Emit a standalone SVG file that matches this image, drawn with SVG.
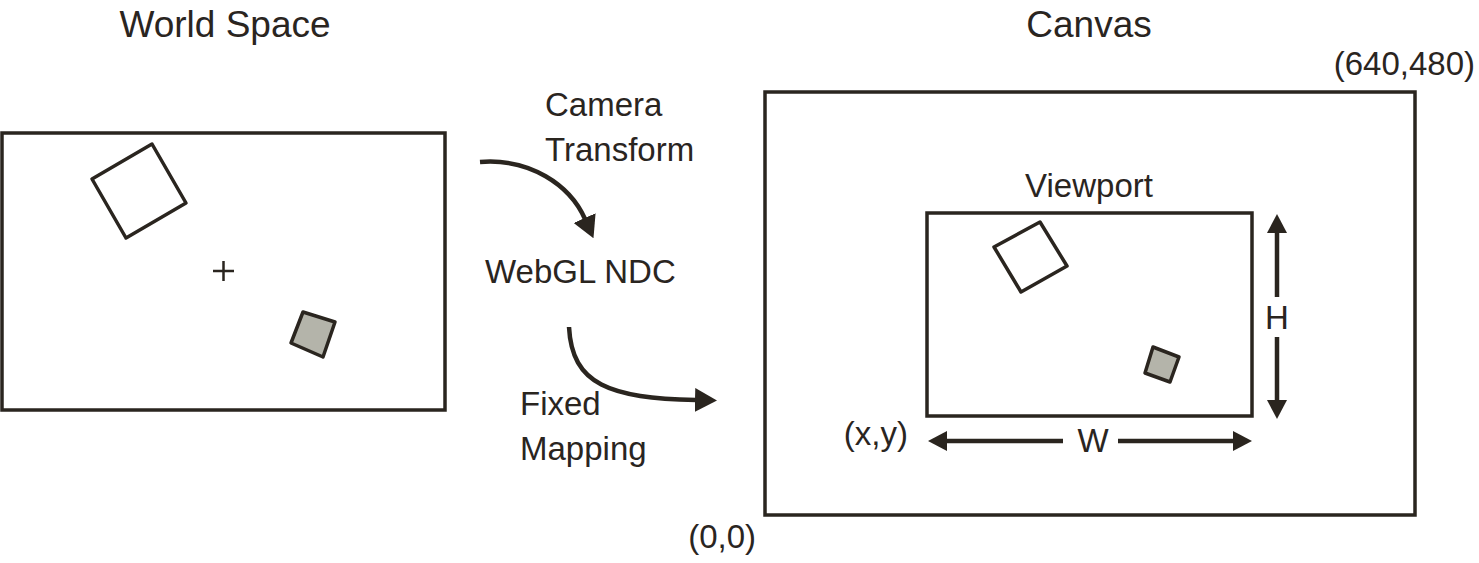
<svg xmlns="http://www.w3.org/2000/svg" width="1479" height="563" viewBox="0 0 1479 563">
<style>
.t{font-family:"Liberation Sans",Arial,sans-serif;fill:#2a251f;font-size:33px}
.title{font-size:37px}
.frame{fill:none;stroke:#2a251f;stroke-width:3.5}
.sq{fill:#fff;stroke:#2a251f;stroke-width:3.5;stroke-linejoin:round}
.sqg{fill:#b4b4aa;stroke:#2a251f;stroke-width:3.5;stroke-linejoin:round}
.ln{fill:none;stroke:#2a251f;stroke-width:4.5}
</style>
<defs>
<marker id="ah" markerUnits="userSpaceOnUse" markerWidth="19" markerHeight="20" viewBox="0 0 19 20" refX="1" refY="10" orient="auto"><path d="M0,0 L19,10 L0,20 z" fill="#2a251f"/></marker>
<marker id="ahL" markerUnits="userSpaceOnUse" markerWidth="22" markerHeight="24" viewBox="0 0 22 24" refX="1" refY="12" orient="auto"><path d="M0,0 L22,12 L0,24 z" fill="#2a251f"/></marker>
</defs>
<rect width="1479" height="563" fill="#fff"/>
<g id="world">
<rect class="frame" x="2" y="133" width="443" height="277"/>
<polygon class="sq" points="92,179 152,144 186,203 126,238"/>
<polygon class="sqg" points="303,312 335,322 323,357 291,343"/>
<path d="M213,271 H234 M223.5,261 V281" stroke="#2a251f" stroke-width="2.5" fill="none"/>
<text class="t title" x="225" y="37" text-anchor="middle">World Space</text>
</g>
<g id="ndc">
<text class="t" x="545" y="116">Camera</text>
<text class="t" x="545" y="161">Transform</text>
<text class="t" x="485" y="283">WebGL NDC</text>
<text class="t" x="520" y="415">Fixed</text>
<text class="t" x="520" y="460">Mapping</text>
</g>
<g id="canvas">
<rect class="frame" x="765" y="92" width="650" height="423"/>
<text class="t title" x="1089" y="37" text-anchor="middle">Canvas</text>
<text class="t" x="1475" y="75" text-anchor="end">(640,480)</text>
<text class="t" x="756" y="548" text-anchor="end">(0,0)</text>
</g>
<g id="viewport">
<rect class="frame" x="927" y="213" width="325" height="203"/>
<polygon class="sq" points="994,247 1040,222 1067,266 1021,292"/>
<polygon class="sqg" points="1153,347 1179,357 1170,382 1145,373"/>
<text class="t" x="1089" y="197" text-anchor="middle">Viewport</text>
<text class="t" x="1277" y="329" text-anchor="middle">H</text>
<text class="t" x="1093" y="452" text-anchor="middle">W</text>
<text class="t" x="908" y="445" text-anchor="end">(x,y)</text>
</g>
<g id="connectors">
<path class="ln" d="M480,162 C530,158 570,185 585,219" marker-end="url(#ahL)"/>
<path class="ln" d="M569,327 C572,385 610,398 696,400" marker-end="url(#ahL)"/>
<path class="ln" d="M1277,297 V232" marker-end="url(#ah)"/>
<path class="ln" d="M1277,337 V401" marker-end="url(#ah)"/>
<path class="ln" d="M1063,441 H946" marker-end="url(#ah)"/>
<path class="ln" d="M1118,441 H1234" marker-end="url(#ah)"/>
</g>
</svg>
